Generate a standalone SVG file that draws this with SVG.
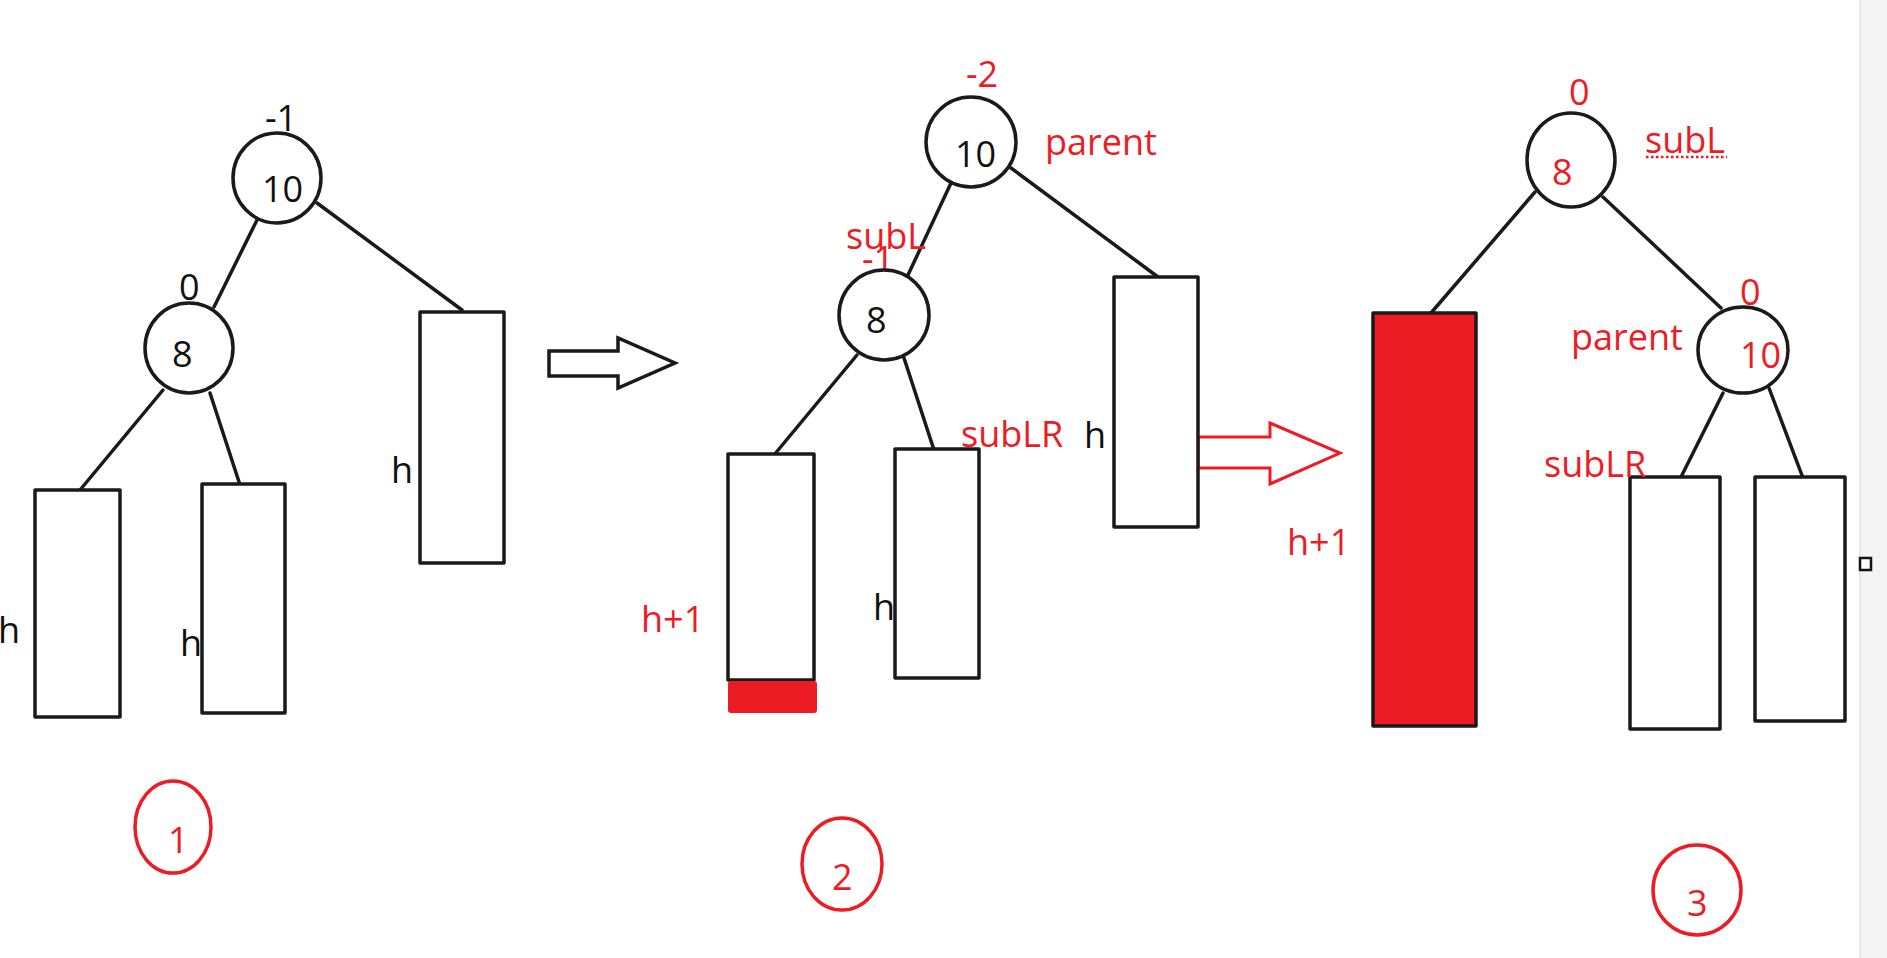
<svg xmlns="http://www.w3.org/2000/svg" width="1887" height="958" viewBox="0 0 1887 958">
<defs>
<style>
.ln{stroke:#1a1a1a;stroke-width:3.5;stroke-linecap:round;fill:none}
.nd{fill:#fff;stroke:#1a1a1a;stroke-width:3.5}
.bx{fill:#fff;stroke:#1a1a1a;stroke-width:3.5;stroke-linejoin:round}
.rb{fill:#ed1c24;stroke:#1a1a1a;stroke-width:3.5;stroke-linejoin:round}
.t{font-family:"Open Sans","Noto Sans","Liberation Sans",sans-serif;font-size:36px;fill:#111}
.r{fill:#ed1c24}
.rc{fill:none;stroke:#ed1c24;stroke-width:3.5}
</style>
</defs>
<rect width="1887" height="958" fill="#fff"/>
<rect x="1860" y="0" width="27" height="958" fill="#f3f3f3"/>
<line x1="1860" y1="0" x2="1860" y2="958" stroke="#e6e6e6" stroke-width="2"/>
<rect x="1860" y="558" width="11" height="12" fill="#fff" stroke="#111" stroke-width="2.5"/>

<g id="connectors">
<line class="ln" x1="257" y1="220" x2="214" y2="307"/>
<line class="ln" x1="317" y1="203" x2="462" y2="310"/>
<line class="ln" x1="163" y1="390" x2="80" y2="490"/>
<line class="ln" x1="210" y1="393" x2="241" y2="488"/>
<line class="ln" x1="951" y1="183" x2="908" y2="275"/>
<line class="ln" x1="1011" y1="168" x2="1158" y2="277"/>
<line class="ln" x1="857" y1="355" x2="774" y2="455"/>
<line class="ln" x1="904" y1="358" x2="934" y2="450"/>
<line class="ln" x1="1535" y1="192" x2="1431" y2="313"/>
<line class="ln" x1="1603" y1="197" x2="1721" y2="308"/>
<line class="ln" x1="1723" y1="393" x2="1681" y2="477"/>
<line class="ln" x1="1769" y1="388" x2="1803" y2="478"/>
<polygon points="549,351 618,351 618,338 675,363 618,388 618,376 549,376" fill="#fff" stroke="#1a1a1a" stroke-width="3.5" stroke-linejoin="miter"/>
<polygon points="1198,437 1270,437 1270,423 1340,453 1270,484 1270,468 1198,468" fill="#fff" stroke="#ed1c24" stroke-width="3" stroke-linejoin="miter"/>
</g>

<g id="tree1">
<g id="t1-n10"><ellipse class="nd" cx="277" cy="178" rx="44" ry="45"/><text class="t" x="262" y="202">10</text><text class="t" x="265" y="131">-1</text></g>
<g id="t1-n8"><ellipse class="nd" cx="189" cy="348" rx="44" ry="45"/><text class="t" x="172" y="367">8</text><text class="t" x="179" y="300">0</text></g>
<g id="t1-b1"><rect class="bx" x="35" y="490" width="85" height="227"/><text class="t" x="-2" y="643">h</text></g>
<g id="t1-b2"><rect class="bx" x="202" y="484" width="83" height="229"/><text class="t" x="180" y="656">h</text></g>
<g id="t1-b3"><rect class="bx" x="420" y="312" width="84" height="251"/><text class="t" x="391" y="483">h</text></g>
<g id="t1-tag"><ellipse class="rc" cx="173" cy="827" rx="38" ry="46"/><text class="t r" x="168" y="853">1</text></g>
</g>

<g id="tree2">
<g id="t2-n10"><ellipse class="nd" cx="971" cy="142" rx="45" ry="45"/><text class="t" x="955" y="167">10</text><text class="t r" x="966" y="87">-2</text><text class="t r" x="1045" y="155">parent</text></g>
<g id="t2-n8"><text class="t r" x="862" y="272">-1</text><ellipse class="nd" cx="884" cy="315" rx="45" ry="45"/><text class="t" x="866" y="333">8</text><text class="t r" x="846" y="249">subL</text></g>
<g id="t2-b1"><rect class="bx" x="728" y="454" width="86" height="226"/><rect class="r" x="728" y="681" width="89" height="32" rx="3"/><text class="t r" x="641" y="632">h+1</text></g>
<g id="t2-b2"><rect class="bx" x="895" y="449" width="84" height="229"/><text class="t" x="873" y="620">h</text><text class="t r" x="961" y="447">subLR</text></g>
<g id="t2-b3"><rect class="bx" x="1114" y="277" width="84" height="250"/><text class="t" x="1084" y="448">h</text></g>
<g id="t2-tag"><ellipse class="rc" cx="842" cy="864" rx="40" ry="46"/><text class="t r" x="832" y="890">2</text></g>
</g>

<g id="tree3">
<g id="t3-n8"><ellipse class="nd" cx="1571" cy="160" rx="44" ry="47"/><text class="t r" x="1552" y="185">8</text><text class="t r" x="1569" y="105">0</text><text class="t r" x="1645" y="153">subL</text><line x1="1646" y1="157" x2="1727" y2="157" stroke="#ed1c24" stroke-width="2.5" stroke-dasharray="2.5 2.5"/></g>
<g id="t3-n10"><ellipse class="nd" cx="1743" cy="350" rx="45" ry="43"/><text class="t r" x="1740" y="368">10</text><text class="t r" x="1740" y="305">0</text><text class="t r" x="1571" y="350">parent</text></g>
<g id="t3-b1"><rect class="rb" x="1373" y="313" width="103" height="413"/><text class="t r" x="1287" y="555">h+1</text></g>
<g id="t3-b2"><rect class="bx" x="1630" y="477" width="90" height="252"/><text class="t r" x="1544" y="477">subLR</text></g>
<g id="t3-b3"><rect class="bx" x="1755" y="477" width="90" height="244"/></g>
<g id="t3-tag"><ellipse class="rc" cx="1697" cy="890" rx="44" ry="45"/><text class="t r" x="1687" y="916">3</text></g>
</g>
</svg>
